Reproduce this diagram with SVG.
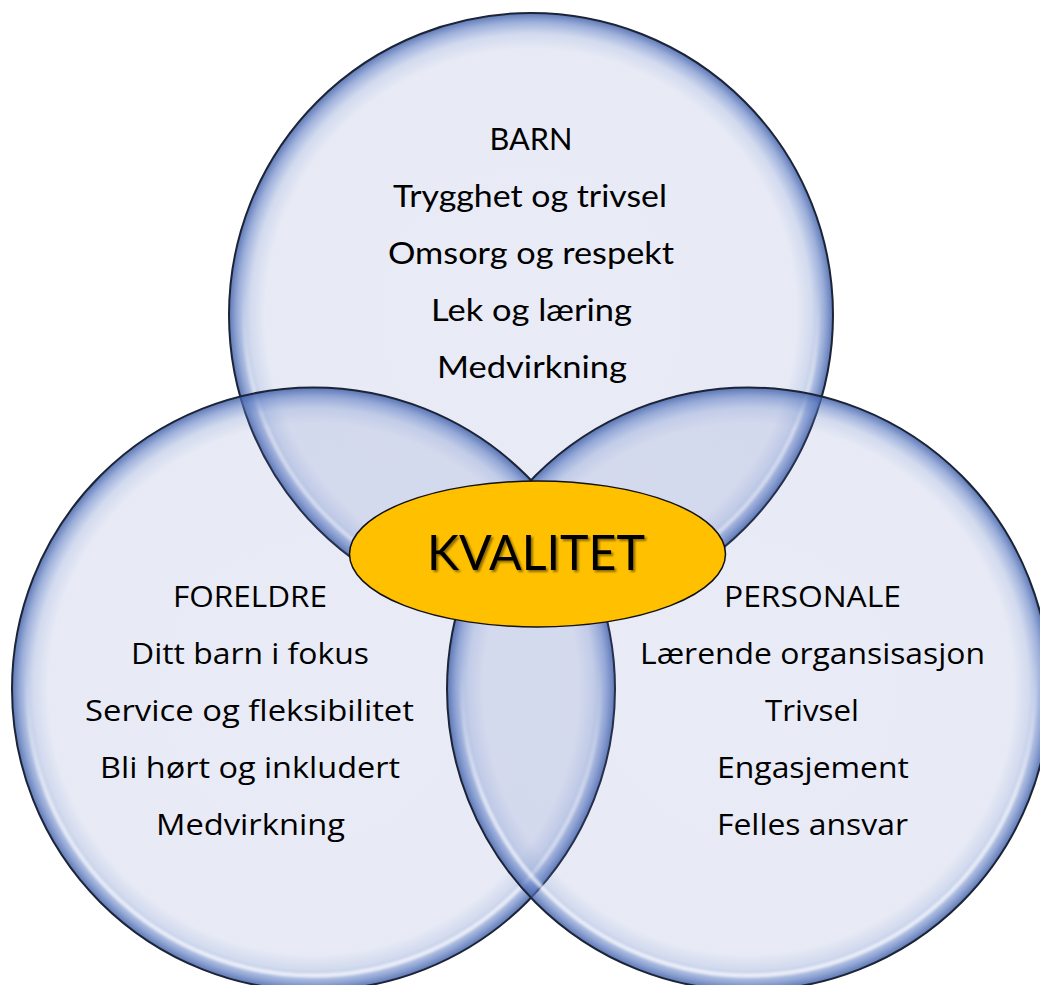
<svg xmlns="http://www.w3.org/2000/svg" width="1040" height="985" viewBox="0 0 1040 985">
  <defs>
    <radialGradient id="rim" cx="0.5" cy="0.5" r="0.5">
      <stop offset="0" stop-color="#6277BF" stop-opacity="0.14"/>
      <stop offset="0.88" stop-color="#6277BF" stop-opacity="0.15"/>
      <stop offset="0.93" stop-color="#6A85C8" stop-opacity="0.3"/>
      <stop offset="0.97" stop-color="#5C7BC2" stop-opacity="0.6"/>
      <stop offset="1" stop-color="#3F5FA8" stop-opacity="0.85"/>
    </radialGradient>
    <linearGradient id="hl" x1="0" y1="0" x2="0" y2="1">
      <stop offset="0" stop-color="#ffffff" stop-opacity="0"/>
      <stop offset="0.45" stop-color="#ffffff" stop-opacity="0"/>
      <stop offset="0.7" stop-color="#ffffff" stop-opacity="0.7"/>
      <stop offset="1" stop-color="#ffffff" stop-opacity="0.8"/>
    </linearGradient>
    <filter id="soft" x="-5%" y="-5%" width="110%" height="110%">
      <feGaussianBlur stdDeviation="1.6"/>
    </filter>
    <filter id="shadow" x="-10%" y="-20%" width="120%" height="150%">
      <feGaussianBlur in="SourceAlpha" stdDeviation="1.2"/>
      <feOffset dx="2" dy="2" result="b"/>
      <feComponentTransfer><feFuncA type="linear" slope="0.45"/></feComponentTransfer>
      <feMerge><feMergeNode/><feMergeNode in="SourceGraphic"/></feMerge>
    </filter>
    <style>
      .disc { fill: url(#rim); stroke: #1C2436; stroke-width: 2; }
      .hl { fill: none; stroke: url(#hl); stroke-width: 4; filter: url(#soft); }
      .t1 { font-family: Lato, "Open Sans", "Liberation Sans", sans-serif; font-size: 31px; fill: #000; text-anchor: middle; }
      .t2 { font-family: "Open Sans", "Liberation Sans", sans-serif; font-size: 30px; fill: #000; text-anchor: middle; }
      .big { font-family: Lato, "Open Sans", "Liberation Sans", sans-serif; font-size: 49px; fill: #000; text-anchor: middle; filter: url(#shadow); }
    </style>
  </defs>
  <rect width="1040" height="985" fill="#ffffff"/>

  <g id="barn">
    <circle class="disc" cx="531" cy="315" r="302"/>
    <circle class="hl" cx="531" cy="315" r="287"/>
  </g>
  <g id="foreldre">
    <circle class="disc" cx="313.5" cy="689" r="301.5"/>
    <circle class="hl" cx="313.5" cy="689" r="286.5"/>
  </g>
  <g id="personale">
    <circle class="disc" cx="748.5" cy="689" r="301.5"/>
    <circle class="hl" cx="748.5" cy="689" r="286.5"/>
  </g>

  <g id="kvalitet">
    <ellipse cx="537.5" cy="554" rx="188" ry="73" fill="#FFC000" stroke="#111" stroke-width="1.5"/>
    <text class="big" x="536" y="570" textLength="218" lengthAdjust="spacingAndGlyphs">KVALITET</text>
  </g>

  <g id="barn-text">
    <text class="t1" x="531" y="150" textLength="83" lengthAdjust="spacingAndGlyphs">BARN</text>
    <text class="t1" x="530" y="207" textLength="274" lengthAdjust="spacingAndGlyphs">Trygghet og trivsel</text>
    <text class="t1" x="531" y="264" textLength="286" lengthAdjust="spacingAndGlyphs">Omsorg og respekt</text>
    <text class="t1" x="531.5" y="321" textLength="201" lengthAdjust="spacingAndGlyphs">Lek og læring</text>
    <text class="t1" x="532" y="378" textLength="190" lengthAdjust="spacingAndGlyphs">Medvirkning</text>
  </g>
  <g id="foreldre-text">
    <text class="t2" x="250" y="607" textLength="154" lengthAdjust="spacingAndGlyphs">FORELDRE</text>
    <text class="t2" x="250" y="664" textLength="238" lengthAdjust="spacingAndGlyphs">Ditt barn i fokus</text>
    <text class="t2" x="249.5" y="721" textLength="329" lengthAdjust="spacingAndGlyphs">Service og fleksibilitet</text>
    <text class="t2" x="250" y="778" textLength="300" lengthAdjust="spacingAndGlyphs">Bli hørt og inkludert</text>
    <text class="t2" x="250.5" y="835" textLength="189" lengthAdjust="spacingAndGlyphs">Medvirkning</text>
  </g>
  <g id="personale-text">
    <text class="t2" x="812.5" y="607" textLength="177" lengthAdjust="spacingAndGlyphs">PERSONALE</text>
    <text class="t2" x="812.5" y="664" textLength="345" lengthAdjust="spacingAndGlyphs">Lærende organsisasjon</text>
    <text class="t2" x="812" y="721" textLength="94" lengthAdjust="spacingAndGlyphs">Trivsel</text>
    <text class="t2" x="813" y="778" textLength="192" lengthAdjust="spacingAndGlyphs">Engasjement</text>
    <text class="t2" x="812.5" y="835" textLength="191" lengthAdjust="spacingAndGlyphs">Felles ansvar</text>
  </g>
  <g id="connectors"></g>
</svg>
